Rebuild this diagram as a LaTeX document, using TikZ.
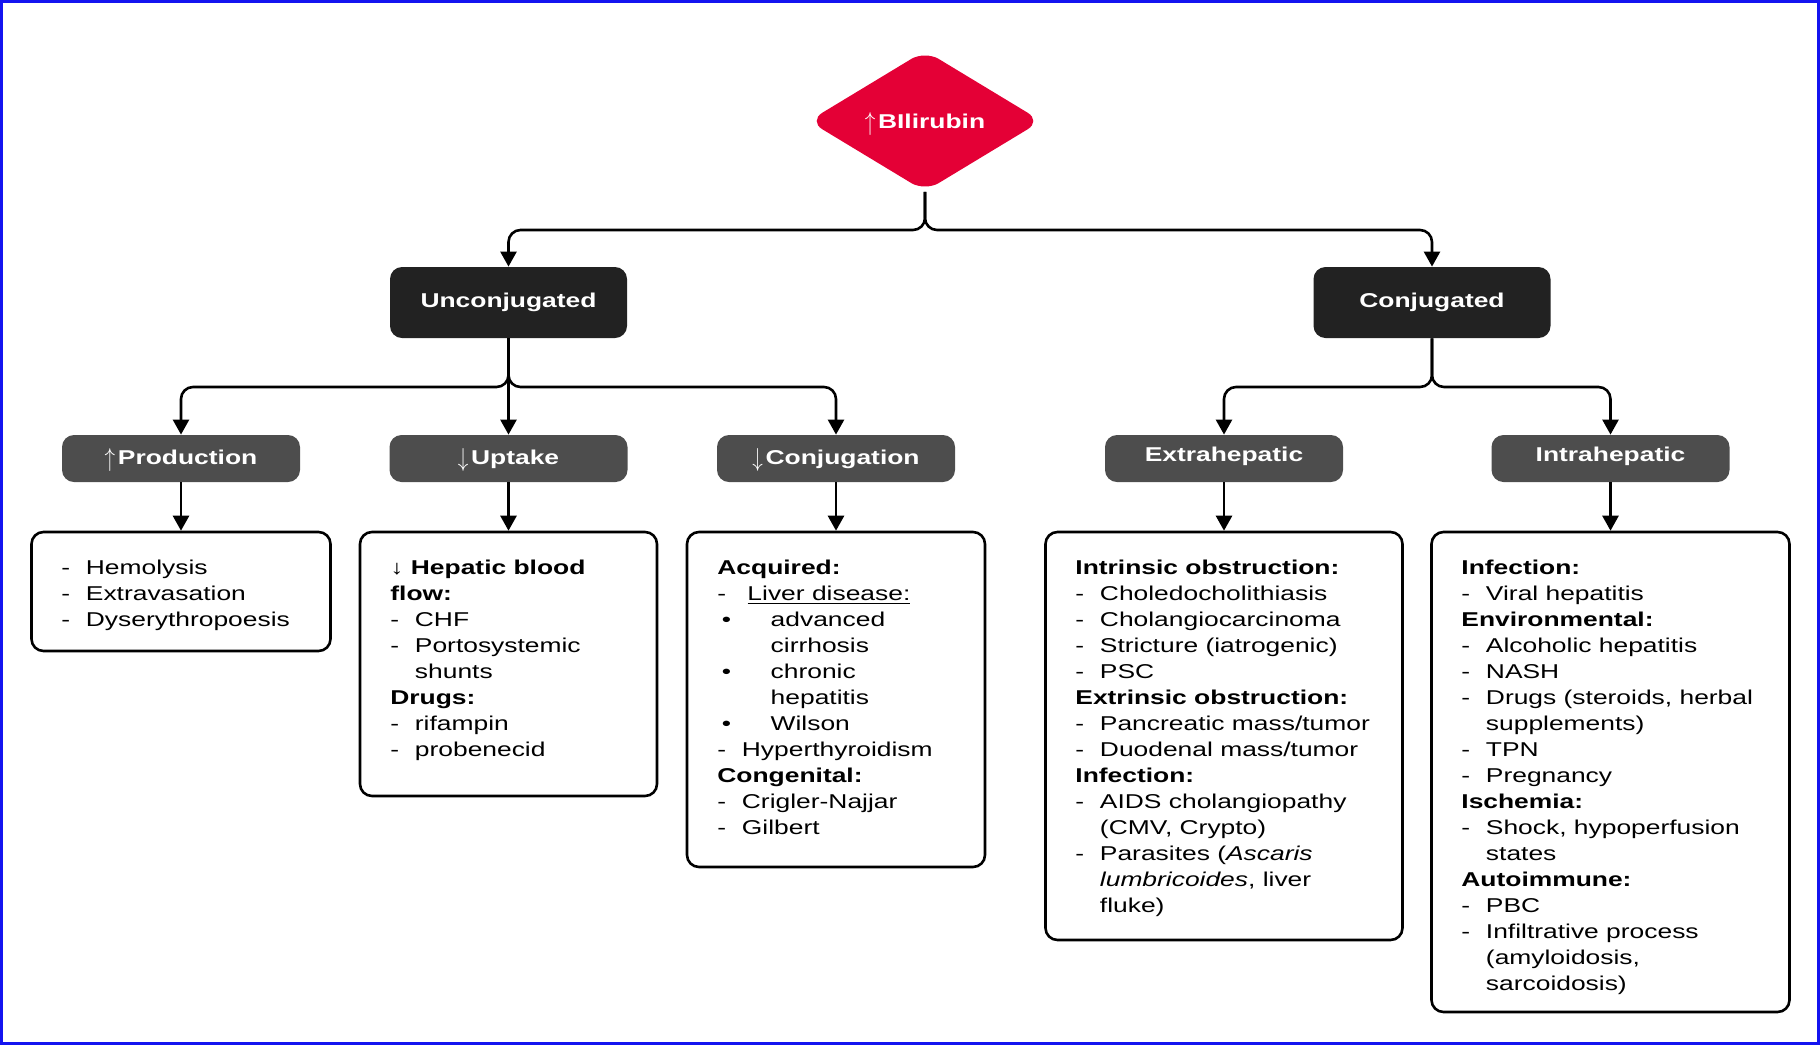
\documentclass[tikz,border=0pt]{standalone}
\usepackage{fontspec}
\setmainfont{Liberation Sans}
\usepackage{graphicx}
\usetikzlibrary{arrows.meta,shapes.geometric,positioning}
\definecolor{bilired}{RGB}{228,0,54}
\definecolor{typegray}{RGB}{34,34,34}
\definecolor{causegray}{RGB}{77,77,77}
\definecolor{frameblue}{RGB}{20,20,240}
\newcommand{\widetxt}[1]{\scalebox{1.32}[1]{#1}}
\newcommand{\dsh}{\makebox[9.3pt][l]{-}}
\newcommand{\ind}{\hspace*{9.3pt}}
\newcommand{\bul}{\makebox[20.2pt][l]{\hspace{1.7pt}•}}
\newcommand{\bulind}{\hspace*{20.2pt}}
\newcommand{\uparr}{\smash{\raisebox{-1pt}{\scalebox{0.8}[1.3]{$\uparrow$}}}\hspace{1pt}}
\newcommand{\downarr}{\smash{\raisebox{-1pt}{\scalebox{0.8}[1.3]{$\downarrow$}}}\hspace{1pt}}

\begin{document}
\begin{tikzpicture}[x=0.5pt,y=-0.5pt,
    decision/.style={diamond,aspect=1.65,fill=bilired,text=white,inner sep=0pt,
        minimum width=116.5pt,minimum height=70.5pt,rounded corners=8pt,
        font=\fontsize{10}{13}\selectfont\bfseries},
    typebox/.style={rectangle,rounded corners=6pt,fill=typegray,text=white,
        minimum width=118.5pt,minimum height=35.5pt,
        font=\fontsize{10}{13}\selectfont\bfseries},
    causebox/.style={rectangle,rounded corners=6pt,fill=causegray,text=white,
        minimum width=119pt,minimum height=23.5pt,text height=7.5pt,text depth=2pt,
        font=\fontsize{10}{13}\selectfont\bfseries},
    listbox/.style={rectangle,rounded corners=6pt,draw,line width=1.3pt},
    listtext/.style={anchor=base west,inner sep=0pt,font=\fontsize{10}{13}\selectfont},
    link/.style={-{Triangle[width=8pt,length=7.5pt]},line width=1.3pt,rounded corners=6pt}]
    \useasboundingbox (0,0) rectangle (1820,1045);
    \draw[frameblue,line width=1.5pt] (1.5,1.5) rectangle (1818.5,1043.5);

    \node[decision] (bili) at (925,121) {\widetxt{\uparr BIlirubin}};

    \node[typebox] (unconj) at (508.5,302.5) {\widetxt{Unconjugated}};
    \node[typebox] (conj) at (1432,302.5) {\widetxt{Conjugated}};

    \node[causebox] (prod) at (181,458.5) {\widetxt{\uparr Production}};
    \node[causebox] (uptake) at (508.5,458.5) {\widetxt{\downarr Uptake}};
    \node[causebox] (conjug) at (836,458.5) {\widetxt{\downarr Conjugation}};
    \node[causebox] (extra) at (1224,458.5) {\widetxt{\raisebox{1.2pt}{Extrahepatic}}};
    \node[causebox] (intra) at (1610.5,458.5) {\widetxt{\raisebox{1.2pt}{Intrahepatic}}};

    \node[listbox,minimum width=149.5pt,minimum height=59.5pt] (prodlist) at (181,591.5) {};
    \node[listbox,minimum width=148.5pt,minimum height=132pt] (uptakelist) at (508.5,664) {};
    \node[listbox,minimum width=149pt,minimum height=167.5pt] (conjuglist) at (836,699.5) {};
    \node[listbox,minimum width=178.5pt,minimum height=204pt] (extralist) at (1224,736) {};
    \node[listbox,minimum width=179pt,minimum height=240pt] (intralist) at (1610.5,772) {};

    \node[listtext] (prodtxt) at (61,574) {\widetxt{\begin{tabular}[t]{@{}l@{}}
        \dsh Hemolysis\\
        \dsh Extravasation\\
        \dsh Dyserythropoesis
    \end{tabular}}};
    \node[listtext] (uptaketxt) at (390,574) {\widetxt{\begin{tabular}[t]{@{}l@{}}
        \textbf{↓ Hepatic blood}\\
        \textbf{flow:}\\
        \dsh CHF\\
        \dsh Portosystemic\\
        \ind shunts\\
        \textbf{Drugs:}\\
        \dsh rifampin\\
        \dsh probenecid
    \end{tabular}}};
    \node[listtext] (conjugtxt) at (717,574) {\widetxt{\begin{tabular}[t]{@{}l@{}}
        \textbf{Acquired:}\\
        \makebox[11.4pt][l]{-}\underline{Liver disease:}\\
        \bul advanced\\
        \bulind cirrhosis\\
        \bul chronic\\
        \bulind hepatitis\\
        \bul Wilson\\
        \dsh Hyperthyroidism\\
        \textbf{Congenital:}\\
        \dsh Crigler-Najjar\\
        \dsh Gilbert
    \end{tabular}}};
    \node[listtext] (extratxt) at (1075,574) {\widetxt{\begin{tabular}[t]{@{}l@{}}
        \textbf{Intrinsic obstruction:}\\
        \dsh Choledocholithiasis\\
        \dsh Cholangiocarcinoma\\
        \dsh Stricture (iatrogenic)\\
        \dsh PSC\\
        \textbf{Extrinsic obstruction:}\\
        \dsh Pancreatic mass/tumor\\
        \dsh Duodenal mass/tumor\\
        \textbf{Infection:}\\
        \dsh AIDS cholangiopathy\\
        \ind (CMV, Crypto)\\
        \dsh Parasites (\textit{Ascaris}\\
        \ind \textit{lumbricoides}, liver\\
        \ind fluke)
    \end{tabular}}};
    \node[listtext] (intratxt) at (1461,574) {\widetxt{\begin{tabular}[t]{@{}l@{}}
        \textbf{Infection:}\\
        \dsh Viral hepatitis\\
        \textbf{Environmental:}\\
        \dsh Alcoholic hepatitis\\
        \dsh NASH\\
        \dsh Drugs (steroids, herbal\\
        \ind supplements)\\
        \dsh TPN\\
        \dsh Pregnancy\\
        \textbf{Ischemia:}\\
        \dsh Shock, hypoperfusion\\
        \ind states\\
        \textbf{Autoimmune:}\\
        \dsh PBC\\
        \dsh Infiltrative process\\
        \ind (amyloidosis,\\
        \ind sarcoidosis)
    \end{tabular}}};

    \coordinate (topbar) at (925,230);
    \coordinate (leftbar) at (508.5,387);
    \coordinate (rightbar) at (1432,387);

    \draw[link] (bili.south) -- (topbar) -| (unconj.north);
    \draw[link] (bili.south) -- (topbar) -| (conj.north);
    \draw[link] (unconj.south) -- (leftbar) -| (prod.north);
    \draw[link] (unconj.south) -- (uptake.north);
    \draw[link] (unconj.south) -- (leftbar) -| (conjug.north);
    \draw[link] (conj.south) -- (rightbar) -| (extra.north);
    \draw[link] (conj.south) -- (rightbar) -| (intra.north);
    \draw[link] (prod) -- (prodlist);
    \draw[link] (uptake) -- (uptakelist);
    \draw[link] (conjug) -- (conjuglist);
    \draw[link] (extra) -- (extralist);
    \draw[link] (intra) -- (intralist);
\end{tikzpicture}
\end{document}
